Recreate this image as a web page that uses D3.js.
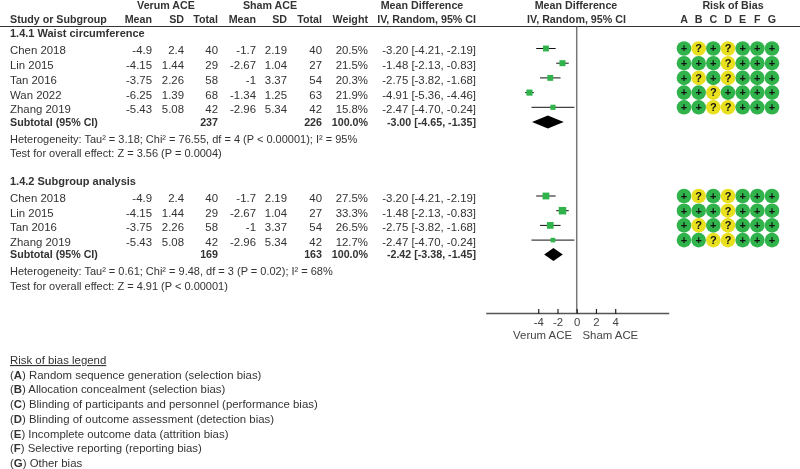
<!DOCTYPE html>
<html>
<head>
<meta charset="utf-8">
<style>
	html, body {
		margin: 0;
		padding: 0;
		background: #fff;
	}
	svg {
		filter: blur(0.3px);
	}
	text {
		font-family: "Liberation Sans", Arial, sans-serif;
		font-size: 11.4px;
		fill: #333;
	}
	text.note {
		font-size: 11px;
	}
	text.bold, .bold text {
		font-size: 10.7px;
		font-weight: bold;
	}
	text.title {
		font-size: 11px;
		font-weight: bold;
	}
	.rob text {
		font-size: 11px;
		font-weight: bold;
		fill: #111;
	}
	.axis text {
		font-size: 11.4px;
		fill: #444;
	}
</style>
</head>
<body>
<div id="chart"></div>
<script src="https://d3js.org/d3.v7.min.js"></script>
<script>

// group 1.4.1
var studies1 = ["Chen 2018", "Lin 2015", "Tan 2016", "Wan 2022", "Zhang 2019"];
var verumMean1 = [-4.9, -4.15, -3.75, -6.25, -5.43];
var verumSD1 = [2.4, 1.44, 2.26, 1.39, 5.08];
var verumN1 = [40, 29, 58, 68, 42];
var shamMean1 = [-1.7, -2.67, -1, -1.34, -2.96];
var shamSD1 = [2.19, 1.04, 3.37, 1.25, 5.34];
var shamN1 = [40, 27, 54, 63, 42];
var weight1 = [20.5, 21.5, 20.3, 21.9, 15.8];
var md1 = [-3.20, -1.48, -2.75, -4.91, -2.47];
var lo1 = [-4.21, -2.13, -3.82, -5.36, -4.70];
var hi1 = [-2.19, -0.83, -1.68, -4.46, -0.24];
var rob1 = ["+?+?+++", "+++?+++", "+?+?+++", "++?++++", "++??+++"];
var total1 = {verum: 237, sham: 226, md: -3.00, lo: -4.65, hi: -1.35};

// group 1.4.2
var studies2 = ["Chen 2018", "Lin 2015", "Tan 2016", "Zhang 2019"];
var verumMean2 = [-4.9, -4.15, -3.75, -5.43];
var verumSD2 = [2.4, 1.44, 2.26, 5.08];
var verumN2 = [40, 29, 58, 42];
var shamMean2 = [-1.7, -2.67, -1, -2.96];
var shamSD2 = [2.19, 1.04, 3.37, 5.34];
var shamN2 = [40, 27, 54, 42];
var weight2 = [27.5, 33.3, 26.5, 12.7];
var md2 = [-3.20, -1.48, -2.75, -2.47];
var lo2 = [-4.21, -2.13, -3.82, -4.70];
var hi2 = [-2.19, -0.83, -1.68, -0.24];
var rob2 = ["+?+?+++", "+++?+++", "+?+?+++", "++??+++"];
var total2 = {verum: 169, sham: 163, md: -2.42, lo: -3.38, hi: -1.45};

var axisTicks = [-4, -2, 0, 2, 4];
var robLetters = ["A", "B", "C", "D", "E", "F", "G"];
var legendText = [
	"Random sequence generation (selection bias)",
	"Allocation concealment (selection bias)",
	"Blinding of participants and personnel (performance bias)",
	"Blinding of outcome assessment (detection bias)",
	"Incomplete outcome data (attrition bias)",
	"Selective reporting (reporting bias)",
	"Other bias"
];

var width = 800, height = 469;

var svg = d3.select("#chart").append("svg")
	.attr("width", width)
	.attr("height", height)
	.style("display", "block");

var x = d3.scaleLinear().domain([-9.46, 9.56]).range([485.7, 668.7]);
var robX = d3.scalePoint().domain(robLetters).range([684, 772]);
var squareSize = d3.scaleSqrt().domain([0, 33.3]).range([0, 7.5]);

// hyphen minus, like the source, not the d3 default
var fmt2 = d3.formatLocale({decimal: ".", thousands: ",", grouping: [3], currency: ["", ""], minus: "-"}).format(".2f");

function label(g, px, py, str, anchor, cls) {
	return g.append("text")
		.attr("x", px)
		.attr("y", py)
		.attr("text-anchor", anchor || "start")
		.attr("dy", "0.35em")
		.attr("class", cls || null)
		.text(str);
}

function ciText(m, l, h) {
	return fmt2(m) + " [" + fmt2(l) + ", " + fmt2(h) + "]";
}

// headers
var head = svg.append("g").attr("class", "bold");
label(head, 166, 5, "Verum ACE", "middle");
label(head, 270, 5, "Sham ACE", "middle");
label(head, 422, 5, "Mean Difference", "middle");
label(head, 576, 5, "Mean Difference", "middle");
label(head, 733, 5, "Risk of Bias", "middle");
label(head, 10, 19.5, "Study or Subgroup");
label(head, 152, 19.5, "Mean", "end");
label(head, 184, 19.5, "SD", "end");
label(head, 218, 19.5, "Total", "end");
label(head, 256, 19.5, "Mean", "end");
label(head, 287, 19.5, "SD", "end");
label(head, 322, 19.5, "Total", "end");
label(head, 368, 19.5, "Weight", "end");
label(head, 476, 19.5, "IV, Random, 95% CI", "end");
label(head, 576.5, 19.5, "IV, Random, 95% CI", "middle");
robLetters.forEach(function(d) { label(head, robX(d), 19.5, d, "middle"); });

svg.append("line")
	.attr("x1", 0).attr("x2", width)
	.attr("y1", 26.5).attr("y2", 26.5)
	.attr("stroke", "#333");

// null line
svg.append("line")
	.attr("x1", x(0)).attr("x2", x(0))
	.attr("y1", 26.5).attr("y2", 313)
	.attr("stroke", "#777")
	.attr("stroke-width", 1.5);

function drawGroup(g) {
	var rowY = d3.scalePoint().domain(d3.range(g.studies.length))
		.range([g.top, g.top + (g.studies.length - 1) * 14.7]);

	label(svg, 10, g.top - 16, g.title, "start", "title");

	g.studies.forEach(function(name, i) {
		var y = rowY(i);
		label(svg, 10, y + 1, name);
		label(svg, 152, y + 1, g.verumMean[i], "end");
		label(svg, 184, y + 1, g.verumSD[i], "end");
		label(svg, 218, y + 1, g.verumN[i], "end");
		label(svg, 256, y + 1, g.shamMean[i], "end");
		label(svg, 287, y + 1, g.shamSD[i], "end");
		label(svg, 322, y + 1, g.shamN[i], "end");
		label(svg, 368, y + 1, d3.format(".1f")(g.weight[i]) + "%", "end");
		label(svg, 476, y + 1, ciText(g.md[i], g.lo[i], g.hi[i]), "end");

		svg.append("line")
			.attr("x1", x(g.lo[i])).attr("x2", x(g.hi[i]))
			.attr("y1", y - 1).attr("y2", y - 1)
			.attr("stroke", "#111");

		var s = squareSize(g.weight[i]);
		svg.append("rect")
			.attr("x", x(g.md[i]) - s / 2)
			.attr("y", y - 1 - s / 2)
			.attr("width", s)
			.attr("height", s)
			.attr("fill", "#2fb34a");

		var rob = svg.append("g").attr("class", "rob");
		g.rob[i].split("").forEach(function(c, j) {
			var cx = robX(robLetters[j]);
			rob.append("circle")
				.attr("cx", cx).attr("cy", y - 1)
				.attr("r", 7.3)
				.attr("fill", c == "+" ? "#2fb34a" : "#e8e01e");
			rob.append("text")
				.attr("x", cx).attr("y", y - 1)
				.attr("dy", "0.35em")
				.attr("text-anchor", "middle")
				.text(c);
		});
	});

	// subtotal row
	var yt = g.subY;
	var sub = svg.append("g").attr("class", "bold");
	label(sub, 10, yt, "Subtotal (95% CI)");
	label(sub, 218, yt, g.total.verum, "end");
	label(sub, 322, yt, g.total.sham, "end");
	label(sub, 368, yt, "100.0%", "end");
	label(sub, 476, yt, ciText(g.total.md, g.total.lo, g.total.hi), "end");

	svg.append("path")
		.attr("d", d3.line()([
			[x(g.total.lo), yt], [x(g.total.md), yt - 6.5],
			[x(g.total.hi), yt], [x(g.total.md), yt + 6.5]
		]) + "Z")
		.attr("fill", "#000");

	label(svg, 10, yt + 17, g.het, "start", "note");
	label(svg, 10, yt + 31.5, g.test, "start", "note");
}

drawGroup({
	title: "1.4.1 Waist circumference", top: 49.5, subY: 122,
	studies: studies1, verumMean: verumMean1, verumSD: verumSD1, verumN: verumN1,
	shamMean: shamMean1, shamSD: shamSD1, shamN: shamN1, weight: weight1,
	md: md1, lo: lo1, hi: hi1, rob: rob1, total: total1,
	het: "Heterogeneity: Tau\u00b2 = 3.18; Chi\u00b2 = 76.55, df = 4 (P < 0.00001); I\u00b2 = 95%",
	test: "Test for overall effect: Z = 3.56 (P = 0.0004)"
});

drawGroup({
	title: "1.4.2 Subgroup analysis", top: 197, subY: 254.5,
	studies: studies2, verumMean: verumMean2, verumSD: verumSD2, verumN: verumN2,
	shamMean: shamMean2, shamSD: shamSD2, shamN: shamN2, weight: weight2,
	md: md2, lo: lo2, hi: hi2, rob: rob2, total: total2,
	het: "Heterogeneity: Tau\u00b2 = 0.61; Chi\u00b2 = 9.48, df = 3 (P = 0.02); I\u00b2 = 68%",
	test: "Test for overall effect: Z = 4.91 (P < 0.00001)"
});

// axis
var axis = svg.append("g")
	.attr("class", "axis")
	.attr("transform", "translate(0,313)")
	.call(d3.axisBottom(x).tickValues(axisTicks).tickSize(0).tickPadding(5).tickFormat(function(d) { return String(d); }));
axis.select(".domain").attr("stroke", "#555").attr("stroke-width", 1.5);
axis.selectAll(".tick line")
	.attr("y1", -4).attr("y2", 1)
	.attr("stroke", "#222")
	.attr("stroke-width", 1.2);
label(svg, 572, 335, "Verum ACE", "end").style("fill", "#444");
label(svg, 582.5, 335, "Sham ACE", "start").style("fill", "#444");

// risk of bias legend
var legY = d3.scalePoint().domain(d3.range(legendText.length + 1)).range([360, 463]);
label(svg, 10, legY(0), "Risk of bias legend").attr("text-decoration", "underline");
legendText.forEach(function(d, i) {
	var t = label(svg, 10, legY(i + 1), "");
	t.append("tspan").text("(");
	t.append("tspan").attr("font-weight", "bold").text(robLetters[i]);
	t.append("tspan").text(") " + d);
});

</script>
</body>
</html>
